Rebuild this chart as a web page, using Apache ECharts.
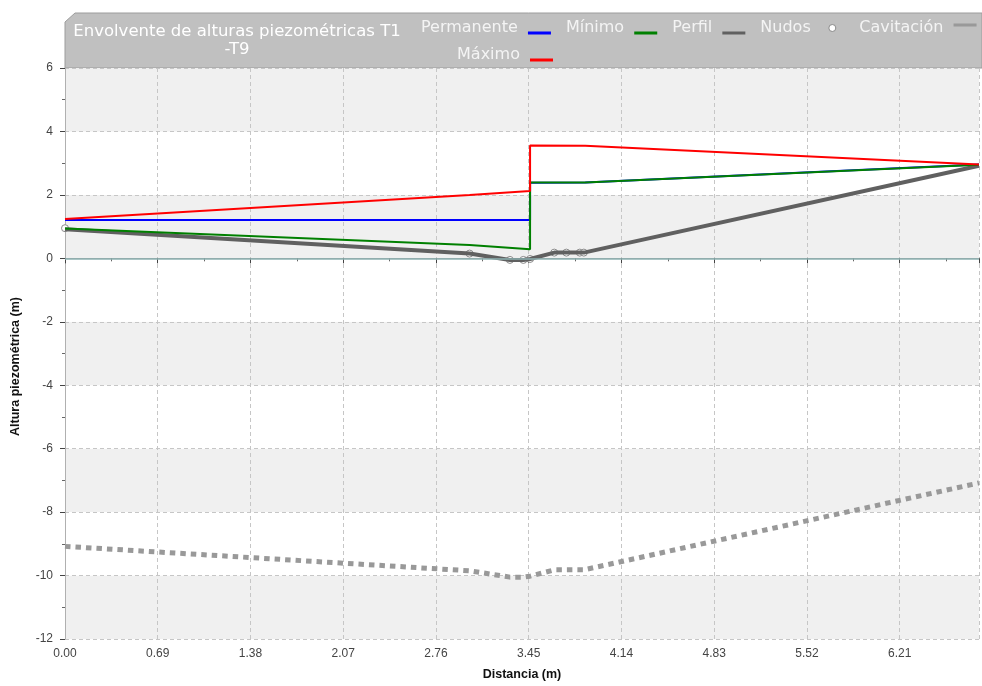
<!DOCTYPE html>
<html>
<head>
<meta charset="utf-8">
<title>Envolvente de alturas piezométricas</title>
<script src="https://cdn.jsdelivr.net/npm/echarts@6/dist/echarts.min.js"></script>
<style>
  html, body { margin: 0; padding: 0; background: #fff; }
  #chart { width: 982px; height: 686px; }
</style>
</head>
<body>
<div id="chart"></div>
<script>
// distancias (m) y alturas (m)
const distEnvolvente = [0, 3.01, 3.46, 3.46, 3.87, 6.80]
const maximo = [1.24, 2.00, 2.12, 3.56, 3.55, 2.96]
const minimo = [0.94, 0.42, 0.29, 2.39, 2.39, 2.95]

const distPermanente = [0, 3.46, 3.46, 3.87, 6.80]
const permanente = [1.21, 1.21, 2.38, 2.39, 2.96]

const distPerfil = [0, 3.01, 3.31, 3.41, 3.46, 3.64, 3.73, 3.83, 3.86, 6.80]
const perfil = [0.92, 0.15, -0.05, -0.05, -0.02, 0.18, 0.18, 0.18, 0.18, 2.92]
const cavitacion = [-9.08, -9.85, -10.05, -10.05, -10.02, -9.82, -9.82, -9.82, -9.82, -7.08]

const distNudos = [0, 3.01, 3.31, 3.41, 3.46, 3.64, 3.73, 3.83, 3.86]
const nudos = [0.95, 0.15, -0.05, -0.05, -0.02, 0.18, 0.18, 0.18, 0.18]

const xInterval = 0.69
const yTicks = { min: -12, max: 6, interval: 2 }

const pairs = (xs, ys) => xs.map((x, i) => [x, ys[i]])

const lineIcon = 'path://M0,0M23,13M0,10H23V13H0Z'
const lineIconHigh = 'path://M0,0M23,13M0,2H23V5H0Z'
const dotIcon = 'path://M0,0M23,13M8,6.5A3.5,3.5,0,1,1,15,6.5A3.5,3.5,0,1,1,8,6.5Z'

const labelFont = 'Liberation Sans, Arial, sans-serif'
const headFont = 'DejaVu Sans, Verdana, sans-serif'

const chart = echarts.init(document.getElementById('chart'), null, { renderer: 'canvas' })

chart.setOption({
  animation: false,
  graphic: [
    {
      type: 'polygon',
      z: 0,
      shape: { points: [[75, 13], [982, 13], [982, 68], [65, 68], [65, 22]] },
      style: { fill: '#c0c0c0', stroke: '#9c9c9c', lineWidth: 1 }
    },
    {
      type: 'text',
      z: 1,
      x: 237,
      y: 23,
      style: {
        text: 'Envolvente de alturas piezométricas T1\n-T9',
        fill: '#ffffff',
        font: '16.5px ' + headFont,
        textAlign: 'center',
        lineHeight: 18
      }
    }
  ],
  legend: [
    {
      left: 421,
      top: 20,
      padding: 0,
      itemGap: 15,
      itemWidth: 23,
      itemHeight: 13,
      align: 'right',
      selectedMode: false,
      icon: lineIcon,
      formatter: name => name + ' ',
      textStyle: { color: '#f4f4f4', fontSize: 16, fontFamily: headFont },
      itemStyle: { borderWidth: 0 },
      data: [
        'Permanente',
        'Mínimo',
        'Perfil',
        { name: 'Nudos', icon: dotIcon, itemStyle: { borderWidth: 1, borderColor: '#8a8a8a', color: '#ffffff' } },
        { name: 'Cavitación', icon: lineIconHigh }
      ]
    },
    {
      right: 429,
      top: 47,
      padding: 0,
      itemWidth: 23,
      itemHeight: 13,
      align: 'right',
      selectedMode: false,
      icon: lineIcon,
      formatter: name => name + ' ',
      textStyle: { color: '#f4f4f4', fontSize: 16, fontFamily: headFont },
      itemStyle: { borderWidth: 0 },
      data: ['Máximo']
    }
  ],
  grid: { left: 65, top: 68, right: 0, bottom: 43 },
  xAxis: {
    type: 'value',
    min: 0,
    max: 6.8,
    interval: xInterval,
    name: 'Distancia (m)',
    nameLocation: 'middle',
    nameGap: 29,
    nameTextStyle: { color: '#111', fontWeight: 'bold', fontSize: 12.5, fontFamily: labelFont },
    axisLine: { show: true, lineStyle: { color: '#a0a0a0' } },
    axisTick: { show: true, length: 5, lineStyle: { color: '#444' } },
    minorTick: { show: true, splitNumber: 2, length: 3, lineStyle: { color: '#666' } },
    axisLabel: {
      margin: 9,
      color: '#444',
      fontSize: 12,
      fontFamily: labelFont,
      formatter: v => (v > 6.5 ? '' : v.toFixed(2))
    },
    splitLine: { show: true, lineStyle: { color: '#c6c6c6', type: [4, 3] } }
  },
  yAxis: {
    type: 'value',
    min: yTicks.min,
    max: yTicks.max,
    interval: yTicks.interval,
    name: 'Altura piezométrica (m)',
    nameLocation: 'middle',
    nameGap: 43,
    nameTextStyle: { color: '#111', fontWeight: 'bold', fontSize: 12.5, fontFamily: labelFont, padding: [0, 26, 0, 0] },
    axisLine: { show: true, lineStyle: { color: '#b0b0b0' } },
    axisTick: { show: true, length: 5, lineStyle: { color: '#444' } },
    minorTick: { show: true, splitNumber: 2, length: 3, lineStyle: { color: '#666' } },
    axisLabel: { margin: 12, color: '#444', fontSize: 12, fontFamily: labelFont },
    splitLine: { show: true, lineStyle: { color: '#c6c6c6', type: [4, 3] } },
    splitArea: { show: true, areaStyle: { color: ['#f0f0f0', '#ffffff'] } }
  },
  series: [
    {
      name: 'Cavitación',
      type: 'line',
      data: pairs(distPerfil, cavitacion),
      symbol: 'none',
      itemStyle: { color: '#999999' },
      lineStyle: { color: '#999999', width: 5, type: [5.5, 5], cap: 'butt' },
      markLine: {
        silent: true,
        symbol: 'none',
        label: { show: false },
        lineStyle: { color: '#8db2b2', width: 1.5, type: 'solid' },
        data: [{ yAxis: 0 }]
      }
    },
    {
      name: 'Perfil',
      type: 'line',
      data: pairs(distPerfil, perfil),
      symbol: 'none',
      itemStyle: { color: '#606060' },
      lineStyle: { color: '#606060', width: 4 }
    },
    {
      name: 'Permanente',
      type: 'line',
      data: pairs(distPermanente, permanente),
      symbol: 'none',
      itemStyle: { color: '#0000ff' },
      lineStyle: { color: '#0000ff', width: 2 }
    },
    {
      name: 'Mínimo',
      type: 'line',
      data: pairs(distEnvolvente, minimo),
      symbol: 'none',
      itemStyle: { color: '#008000' },
      lineStyle: { color: '#008000', width: 2 }
    },
    {
      name: 'Máximo',
      type: 'line',
      data: pairs(distEnvolvente, maximo),
      symbol: 'none',
      itemStyle: { color: '#ff0000' },
      lineStyle: { color: '#ff0000', width: 2 }
    },
    {
      name: 'Nudos',
      type: 'scatter',
      data: pairs(distNudos, nudos),
      symbol: 'circle',
      symbolSize: 7,
      itemStyle: { color: '#ffffff', borderColor: '#8a8a8a', borderWidth: 1, opacity: 1 }
    }
  ]
})
</script>
</body>
</html>
